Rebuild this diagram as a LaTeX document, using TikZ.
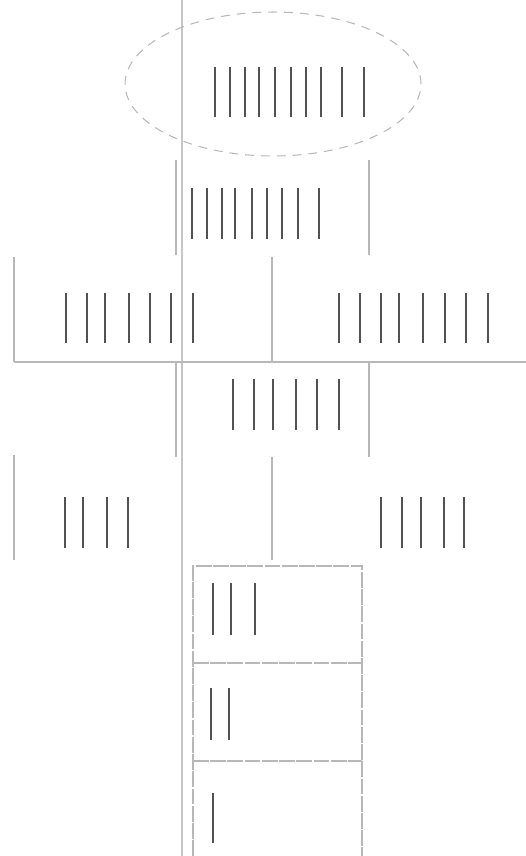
\documentclass[tikz,border=0pt]{standalone}
\usepackage{tikz}
\usetikzlibrary{arrows}
\usepackage{xcolor}

\definecolor{rulegray}{gray}{0.72}
\definecolor{markgray}{gray}{0.32}

\begin{document}
\begin{tikzpicture}[x=0.02cm, y=-0.02cm,
	rule/.style={rulegray, line width=0.6pt},
	boxrule/.style={rulegray, line width=0.6pt, dash pattern=on 9pt off 0.8pt},
	tally/.style={markgray, line width=1.4pt}]
						\useasboundingbox (0,0) rectangle (526,856);
						
						% Long vertical line
						\draw[rule, gray!45] (182,0) -- (182,856);
						
						% Ellipse round ten
						\draw[rulegray, line width=0.6pt, dash pattern=on 5pt off 4pt] (273,84) ellipse [x radius=2.96cm, y radius=1.44cm];
						\foreach \x in {215,230,245,259,275,291,306,321,342,364}
						\draw[tally] (\x,67) -- (\x,117);
						
						% Row of nine
						\draw[rule] (176,160) -- (176,255);
						\draw[rule] (369,160) -- (369,255);
						\foreach \x in {192,207,222,235,252,267,282,298,319}
						\draw[tally] (\x,188) -- (\x,239);
						
						% Seven and eight
						\draw[rule] (14,257) -- (14,362);
						\draw[rule] (272,257) -- (272,362);
						\draw[rule] (14,362) -- (526,362);
						\foreach \x in {66,87,105,129,150,171,193}
						\draw[tally] (\x,293) -- (\x,343);
						\foreach \x in {339,360,381,399,423,445,466,488}
						\draw[tally] (\x,293) -- (\x,343);
						
						% Row of six
						\draw[rule] (176,362) -- (176,457);
						\draw[rule] (369,362) -- (369,457);
						\foreach \x in {233,254,273,296,317,339}
						\draw[tally] (\x,379) -- (\x,430);
						
						% Four and five
						\draw[rule] (14,455) -- (14,560);
						\draw[rule] (272,457) -- (272,560);
						\foreach \x in {65,83,107,128}
						\draw[tally] (\x,497) -- (\x,548);
						\foreach \x in {381,402,421,444,464}
						\draw[tally] (\x,497) -- (\x,548);
						
						% Boxes for three, two, one
						\draw[boxrule] (193,856) -- (193,566) -- (362,566) -- (362,856);
						\draw[boxrule] (193,663) -- (362,663);
						\draw[boxrule] (193,761) -- (362,761);
						\foreach \x in {213,231,255}
						\draw[tally] (\x,583) -- (\x,635);
						\foreach \x in {211,229}
						\draw[tally] (\x,688) -- (\x,740);
						\draw[tally] (213,793) -- (213,843);
					\end{tikzpicture}
\end{document}
